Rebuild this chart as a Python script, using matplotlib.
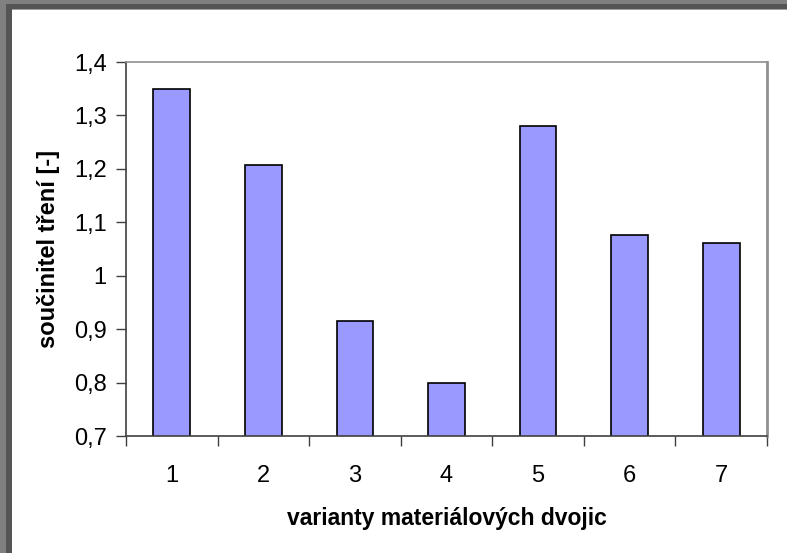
import numpy as np
import matplotlib.pyplot as plt
from matplotlib.patches import Rectangle

# data
categories = ['1', '2', '3', '4', '5', '6', '7']
friction = [1.35, 1.207, 0.915, 0.80, 1.281, 1.077, 1.061]
y_ticks = [0.7, 0.8, 0.9, 1.0, 1.1, 1.2, 1.3, 1.4]
y_tick_labels = ['0,7', '0,8', '0,9', '1', '1,1', '1,2', '1,3', '1,4']

W, H = 787, 553
plt.rcParams['font.family'] = ['Liberation Sans', 'DejaVu Sans']

fig = plt.figure(figsize=(W / 100, H / 100), dpi=100)
fig.patch.set_facecolor('#808080')

def px_rect(x0, ytop, color):
    # rectangle from pixel (x0, ytop) down to the bottom right corner
    fig.patches.append(Rectangle((x0 / W, 0), 1 - x0 / W, 1 - ytop / H,
                                 transform=fig.transFigure, facecolor=color,
                                 edgecolor='none', zorder=-10))

px_rect(6, 4, '#555555')
px_rect(12, 9, '#a0a0a0')
px_rect(12, 10, 'white')

ax = fig.add_axes([126 / W, 1 - 436 / H, (767 - 126) / W, (436 - 62) / H])
ax.set_facecolor('white')

x = np.arange(1, len(categories) + 1)
ax.bar(x, friction, width=0.4, color='#9999ff', edgecolor='black', linewidth=1.2)

ax.set_xlim(0.5, len(categories) + 0.5)
ax.set_ylim(0.7, 1.4)

# tick marks on category boundaries, labels centred in categories
ax.set_xticks(np.arange(0.5, len(categories) + 1, 1.0))
ax.set_xticklabels([])
ax.set_xticks(x, minor=True)
ax.set_xticklabels(categories, minor=True)
ax.tick_params(axis='x', which='major', length=7, width=1, color='#404040', direction='out')
ax.tick_params(axis='x', which='minor', length=0, pad=21, labelsize=17)

ax.set_yticks(y_ticks)
ax.set_yticklabels(y_tick_labels)
ax.tick_params(axis='y', length=7, width=1, color='#404040', direction='out', pad=7, labelsize=17)

for side in ['left', 'bottom']:
    ax.spines[side].set_color('#404040')
    ax.spines[side].set_linewidth(1.2)
ax.spines['top'].set_color('#909090')
ax.spines['top'].set_linewidth(1.2)
ax.spines['right'].set_color('#909090')
ax.spines['right'].set_linewidth(2)

ax.set_xlabel('varianty materiálových dvojic', fontsize=16.5, fontweight='bold', labelpad=14)
ax.set_ylabel('součinitel tření [-]', fontsize=17, fontweight='bold', labelpad=10)

fig.savefig('out.png', dpi=100, facecolor=fig.get_facecolor())
